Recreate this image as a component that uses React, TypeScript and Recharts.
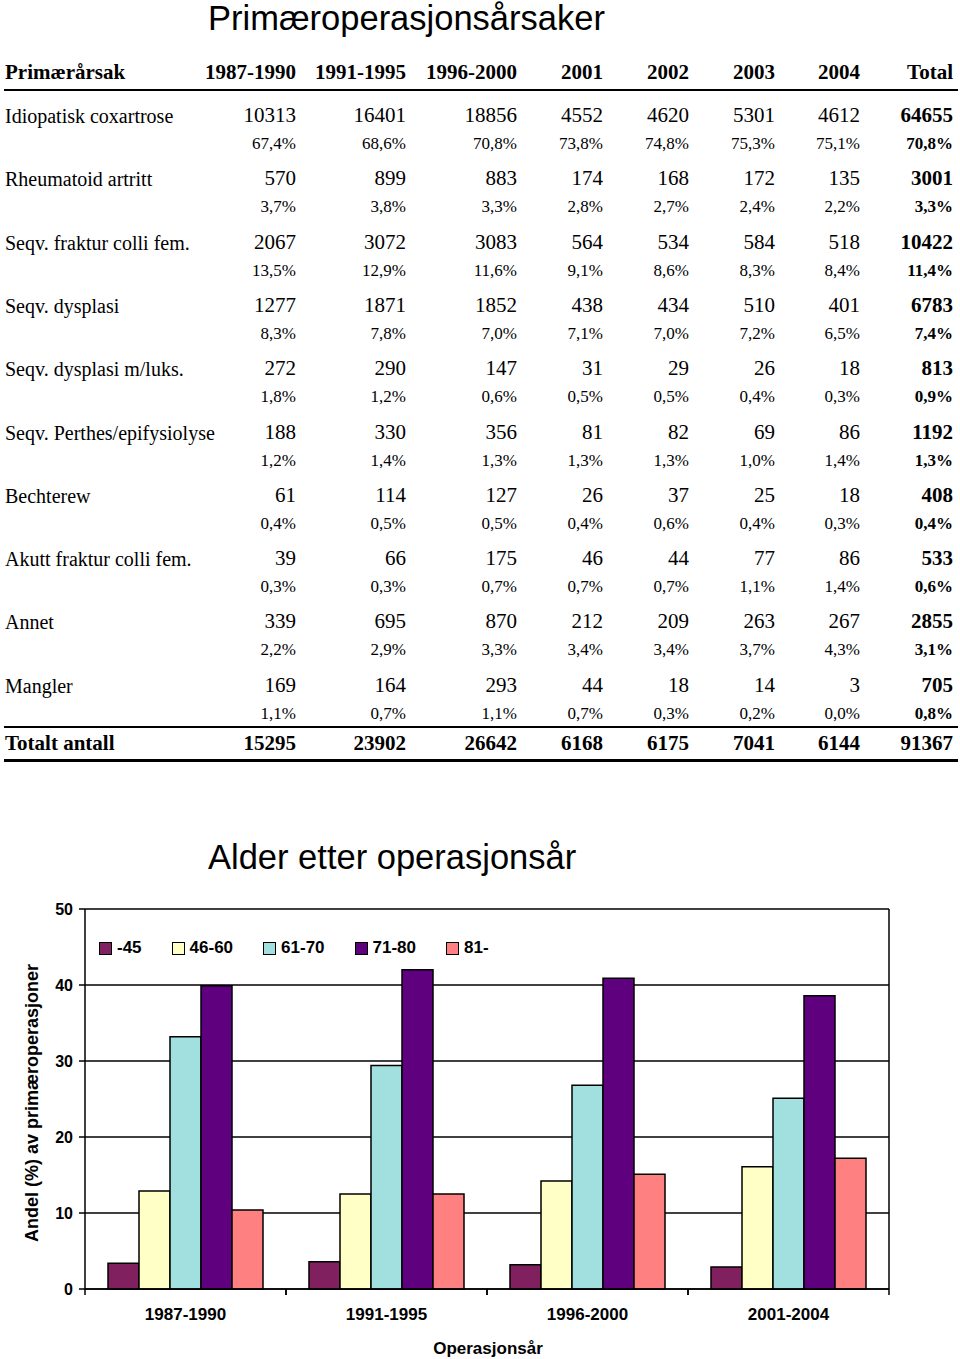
import React from "react";
import { BarChart, Bar, XAxis, YAxis, CartesianGrid, Legend } from "recharts";

// table
const periods = ["1987-1990", "1991-1995", "1996-2000", "2001", "2002", "2003", "2004", "Total"];
const causes = [
  "Idiopatisk coxartrose",
  "Rheumatoid artritt",
  "Seqv. fraktur colli fem.",
  "Seqv. dysplasi",
  "Seqv. dysplasi m/luks.",
  "Seqv. Perthes/epifysiolyse",
  "Bechterew",
  "Akutt fraktur colli fem.",
  "Annet",
  "Mangler",
];
const causeCounts = [
  [10313, 16401, 18856, 4552, 4620, 5301, 4612, 64655],
  [570, 899, 883, 174, 168, 172, 135, 3001],
  [2067, 3072, 3083, 564, 534, 584, 518, 10422],
  [1277, 1871, 1852, 438, 434, 510, 401, 6783],
  [272, 290, 147, 31, 29, 26, 18, 813],
  [188, 330, 356, 81, 82, 69, 86, 1192],
  [61, 114, 127, 26, 37, 25, 18, 408],
  [39, 66, 175, 46, 44, 77, 86, 533],
  [339, 695, 870, 212, 209, 263, 267, 2855],
  [169, 164, 293, 44, 18, 14, 3, 705],
];
const causePcts = [
  ["67,4%", "68,6%", "70,8%", "73,8%", "74,8%", "75,3%", "75,1%", "70,8%"],
  ["3,7%", "3,8%", "3,3%", "2,8%", "2,7%", "2,4%", "2,2%", "3,3%"],
  ["13,5%", "12,9%", "11,6%", "9,1%", "8,6%", "8,3%", "8,4%", "11,4%"],
  ["8,3%", "7,8%", "7,0%", "7,1%", "7,0%", "7,2%", "6,5%", "7,4%"],
  ["1,8%", "1,2%", "0,6%", "0,5%", "0,5%", "0,4%", "0,3%", "0,9%"],
  ["1,2%", "1,4%", "1,3%", "1,3%", "1,3%", "1,0%", "1,4%", "1,3%"],
  ["0,4%", "0,5%", "0,5%", "0,4%", "0,6%", "0,4%", "0,3%", "0,4%"],
  ["0,3%", "0,3%", "0,7%", "0,7%", "0,7%", "1,1%", "1,4%", "0,6%"],
  ["2,2%", "2,9%", "3,3%", "3,4%", "3,4%", "3,7%", "4,3%", "3,1%"],
  ["1,1%", "0,7%", "1,1%", "0,7%", "0,3%", "0,2%", "0,0%", "0,8%"],
];
const totals = [15295, 23902, 26642, 6168, 6175, 7041, 6144, 91367];

// chart
const opPeriods = ["1987-1990", "1991-1995", "1996-2000", "2001-2004"];
const ageGroups = ["-45", "46-60", "61-70", "71-80", "81-"];
const ageUnder45 = [3.4, 3.6, 3.2, 2.9];
const age46to60 = [12.9, 12.5, 14.2, 16.1];
const age61to70 = [33.2, 29.4, 26.8, 25.1];
const age71to80 = [39.9, 42.0, 40.9, 38.6];
const age81plus = [10.4, 12.5, 15.1, 17.2];
const yTicks = [0, 10, 20, 30, 40, 50];

const ageColors = ["#80205f", "#ffffc6", "#a2e0e0", "#5f007f", "#ff8080"];
const ageSeries = [ageUnder45, age46to60, age61to70, age71to80, age81plus];

const chartData = opPeriods.map((p, i) => {
  const row: Record<string, string | number> = { period: p };
  ageGroups.forEach((g, k) => {
    row[g] = ageSeries[k][i];
  });
  return row;
});

const colRight = [296, 406, 517, 603, 689, 775, 860, 953];
const serif = "'Liberation Serif', 'Times New Roman', serif";
const sans = "'Liberation Sans', Arial, sans-serif";

function Cell({ x, y, size, bold, children }: any) {
  return (
    <div
      style={{
        position: "absolute",
        right: 960 - x,
        top: y,
        transform: "translateY(-50%)",
        fontSize: size,
        fontWeight: bold ? "bold" : "normal",
        whiteSpace: "nowrap",
        lineHeight: 1,
      }}
    >
      {children}
    </div>
  );
}

function Label({ x, y, size, bold, children }: any) {
  return (
    <div
      style={{
        position: "absolute",
        left: x,
        top: y,
        transform: "translateY(-50%)",
        fontSize: size,
        fontWeight: bold ? "bold" : "normal",
        whiteSpace: "nowrap",
        lineHeight: 1,
      }}
    >
      {children}
    </div>
  );
}

function CauseTable() {
  const rowGap = 63.3;
  return (
    <div style={{ position: "absolute", left: 0, top: 0, width: 960, height: 780, fontFamily: serif, color: "#000" }}>
      <div style={{ position: "absolute", left: 208, top: 18, transform: "translateY(-50%)", fontFamily: sans, fontSize: 34.5, lineHeight: 1 }}>
        Primæroperasjonsårsaker
      </div>
      <Label x={5} y={72} size={21} bold>Primærårsak</Label>
      {periods.map((p, j) => (
        <Cell key={p} x={colRight[j]} y={72} size={21} bold>{p}</Cell>
      ))}
      <div style={{ position: "absolute", left: 4, width: 954, top: 89, height: 2, background: "#000" }} />
      {causes.map((c, i) => (
        <React.Fragment key={c}>
          <Label x={5} y={116 + i * rowGap} size={20}>{c}</Label>
          {causeCounts[i].map((v, j) => (
            <Cell key={"n" + j} x={colRight[j]} y={115 + i * rowGap} size={21} bold={j === 7}>{v}</Cell>
          ))}
          {causePcts[i].map((v, j) => (
            <Cell key={"p" + j} x={colRight[j]} y={143 + i * rowGap} size={17} bold={j === 7}>{v}</Cell>
          ))}
        </React.Fragment>
      ))}
      <div style={{ position: "absolute", left: 4, width: 954, top: 726, height: 2, background: "#000" }} />
      <Label x={5} y={743} size={21} bold>Totalt antall</Label>
      {totals.map((v, j) => (
        <Cell key={"t" + j} x={colRight[j]} y={743} size={21} bold>{v}</Cell>
      ))}
      <div style={{ position: "absolute", left: 4, width: 954, top: 759, height: 3, background: "#000" }} />
    </div>
  );
}

function GroupTick(props: any) {
  const { x, y, payload } = props;
  const half = payload && typeof payload.offset === "number" ? payload.offset : 0;
  return (
    <g>
      {half > 0 && (
        <>
          <line x1={x - half} x2={x - half} y1={y - 6} y2={y} stroke="#000" strokeWidth={1.5} />
          <line x1={x + half} x2={x + half} y1={y - 6} y2={y} stroke="#000" strokeWidth={1.5} />
        </>
      )}
      <text x={x} y={y + 25} textAnchor="middle" fontFamily={sans} fontWeight="bold" fontSize={17} fill="#000">
        {payload.value}
      </text>
    </g>
  );
}

function AgeLegend() {
  return (
    <div style={{ display: "flex", alignItems: "center", fontFamily: sans, fontWeight: "bold", fontSize: 17, color: "#000" }}>
      {ageGroups.map((g, k) => (
        <div key={g} style={{ display: "flex", alignItems: "center", marginRight: 30 }}>
          <span style={{ display: "inline-block", width: 11, height: 11, background: ageColors[k], border: "1px solid #000", marginRight: 5 }} />
          <span>{g}</span>
        </div>
      ))}
    </div>
  );
}

// frame: vertical grid line on the plot's right edge
const frameVertical = (props: any) => {
  const off = props.offset;
  return off ? [off.left + off.width] : [];
};

function AgeChart() {
  return (
    <div style={{ position: "absolute", left: 0, top: 820, width: 960, height: 539 }}>
      <div style={{ position: "absolute", left: 208, top: 37, transform: "translateY(-50%)", fontFamily: sans, fontSize: 34.5, lineHeight: 1 }}>
        Alder etter operasjonsår
      </div>
      <div
        style={{
          position: "absolute",
          left: 32,
          top: 283,
          transform: "translate(-50%, -50%) rotate(-90deg)",
          fontFamily: sans,
          fontWeight: "bold",
          fontSize: 18,
          whiteSpace: "nowrap",
          lineHeight: 1,
        }}
      >
        Andel (%) av primæroperasjoner
      </div>
      <div style={{ position: "absolute", left: 488, top: 528, transform: "translate(-50%, -50%)", fontFamily: sans, fontWeight: "bold", fontSize: 17, lineHeight: 1, whiteSpace: "nowrap" }}>
        Operasjonsår
      </div>
      <div style={{ position: "absolute", left: 0, top: 70 }}>
        <BarChart
          width={960}
          height={469}
          data={chartData}
          margin={{ top: 19, right: 71, bottom: 30, left: 0 }}
          barGap={0}
          barCategoryGap={23}
        >
          <CartesianGrid
            stroke="#000"
            strokeWidth={1.5}
            verticalCoordinatesGenerator={frameVertical}
          />
          <XAxis
            dataKey="period"
            height={40}
            axisLine={{ stroke: "#000", strokeWidth: 1.5 }}
            tickLine={false}
            tickSize={6}
            tickMargin={0}
            tick={<GroupTick />}
            interval={0}
          />
          <YAxis
            width={85}
            domain={[0, 50]}
            ticks={yTicks}
            interval={0}
            axisLine={{ stroke: "#000", strokeWidth: 1.5 }}
            tickLine={{ stroke: "#000", strokeWidth: 1.5 }}
            tickSize={6}
            tickMargin={6}
            tick={{ fill: "#000", fontFamily: sans, fontWeight: "bold", fontSize: 16 }}
          />
          <Legend
            layout="horizontal"
            verticalAlign="middle"
            align="center"
            content={<AgeLegend />}
            wrapperStyle={{ top: 48, left: 99, width: "auto" }}
          />
          {ageGroups.map((g, k) => (
            <Bar
              key={g}
              dataKey={g}
              fill={ageColors[k]}
              stroke="#000"
              strokeWidth={1.5}
              isAnimationActive={false}
            />
          ))}
        </BarChart>
      </div>
    </div>
  );
}

export default function App() {
  return (
    <div style={{ position: "absolute", left: 0, top: 0, width: 960, height: 1359, background: "#fff" }}>
      <CauseTable />
      <AgeChart />
    </div>
  );
}
